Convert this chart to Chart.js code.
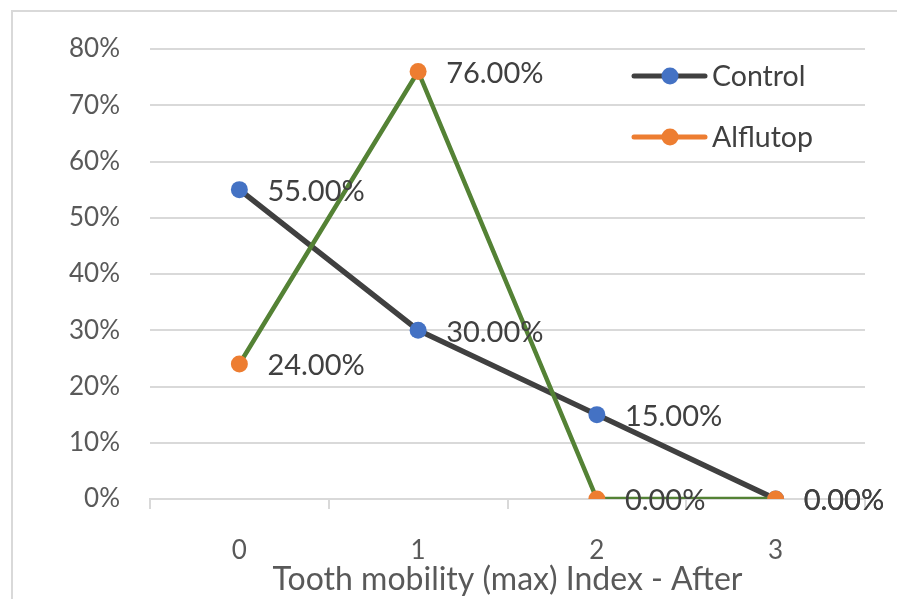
<!DOCTYPE html>
<html>
<head>
<meta charset="utf-8">
<script src="https://cdn.jsdelivr.net/npm/chart.js@4/dist/chart.umd.min.js"></script>
<style>
  html, body { margin: 0; padding: 0; background: #ffffff; }
  #wrap { width: 897px; height: 599px; position: relative; }
</style>
</head>
<body>
<div id="wrap"><canvas id="c" width="897" height="599"></canvas></div>
<script>
const categories = ['0', '1', '2', '3'];
const controlValues = [0.55, 0.30, 0.15, 0.00];
const alflutopValues = [0.24, 0.76, 0.00, 0.00];
const seriesNames = ['Control', 'Alflutop'];
const xAxisTitle = 'Tooth mobility (max) Index - After';
const yTickValues = [0, 0.1, 0.2, 0.3, 0.4, 0.5, 0.6, 0.7, 0.8];

const FONT = 'Lato, "Liberation Sans", sans-serif';
const legendItems = [
  { name: seriesNames[0], line: '#404040', marker: '#4472C4' },
  { name: seriesNames[1], line: '#ED7D31', marker: '#ED7D31' }
];

const framePlugin = {
  id: 'frame',
  beforeDraw(chart) {
    const ctx = chart.ctx;
    ctx.save();
    ctx.fillStyle = '#ffffff';
    ctx.fillRect(0, 0, chart.width, chart.height);
    ctx.strokeStyle = '#D9D9D9';
    ctx.lineWidth = 2;
    ctx.beginPath();
    ctx.moveTo(12, chart.height);
    ctx.lineTo(12, 11);
    ctx.lineTo(chart.width, 11);
    ctx.stroke();
    ctx.restore();
  }
};

const labelPlugin = {
  id: 'pointLabels',
  afterDatasetsDraw(chart) {
    const ctx = chart.ctx;
    ctx.save();
    ctx.font = '29px ' + FONT;
    ctx.fillStyle = '#404040';
    ctx.textAlign = 'left';
    ctx.textBaseline = 'middle';
    chart.data.datasets.forEach((ds, i) => {
      const meta = chart.getDatasetMeta(i);
      meta.data.forEach((pt, j) => {
        const v = ds.data[j];
        ctx.fillText((v * 100).toFixed(2) + '%', pt.x + 28, pt.y + 2);
      });
    });
    ctx.restore();
  }
};

const legendPlugin = {
  id: 'customLegend',
  afterDraw(chart) {
    const ctx = chart.ctx;
    const area = chart.chartArea;
    ctx.save();
    ctx.font = '28.5px ' + FONT;
    ctx.textBaseline = 'middle';
    ctx.textAlign = 'left';
    legendItems.forEach((it, i) => {
      const y = area.top + 27 + i * 61;
      const x0 = area.right - 231;
      ctx.strokeStyle = it.line;
      ctx.lineWidth = 5;
      ctx.lineCap = 'round';
      ctx.beginPath();
      ctx.moveTo(x0, y);
      ctx.lineTo(x0 + 71, y);
      ctx.stroke();
      ctx.fillStyle = it.marker;
      ctx.beginPath();
      ctx.arc(x0 + 36, y, 8.5, 0, Math.PI * 2);
      ctx.fill();
      ctx.fillStyle = '#404040';
      ctx.fillText(it.name, x0 + 78, y + 1);
    });
    ctx.restore();
  }
};

new Chart(document.getElementById('c'), {
  type: 'line',
  data: {
    labels: categories,
    datasets: [
      {
        label: seriesNames[0],
        data: controlValues,
        borderColor: '#404040',
        borderWidth: 5.5,
        pointRadius: 8.5,
        pointBackgroundColor: '#4472C4',
        pointBorderWidth: 0,
        pointBorderColor: '#4472C4',
        tension: 0,
        order: 2
      },
      {
        label: seriesNames[1],
        data: alflutopValues,
        borderColor: '#548235',
        borderWidth: 4.5,
        pointRadius: 8.5,
        pointBackgroundColor: '#ED7D31',
        pointBorderWidth: 0,
        pointBorderColor: '#ED7D31',
        tension: 0,
        order: 1
      }
    ]
  },
  options: {
    responsive: false,
    animation: false,
    devicePixelRatio: 1,
    layout: { padding: { left: 0, right: 32, top: 49, bottom: 0 } },
    plugins: {
      legend: { display: false },
      tooltip: { enabled: false },
      title: { display: false }
    },
    scales: {
      x: {
        type: 'category',
        offset: true,
        grid: {
          offset: true,
          drawOnChartArea: false,
          drawTicks: true,
          tickLength: 10,
          color: '#D9D9D9',
          lineWidth: 2
        },
        border: { display: true, color: '#D9D9D9', width: 2 },
        ticks: {
          color: '#595959',
          font: { family: FONT, size: 26 },
          padding: 26,
          maxRotation: 0
        },
        title: {
          display: true,
          text: xAxisTitle,
          color: '#595959',
          font: { family: FONT, size: 32 },
          padding: { top: 0, bottom: 0 }
        },
        afterFit(scale) { scale.height = 100; }
      },
      y: {
        min: 0,
        max: 0.8,
        afterBuildTicks(scale) { scale.ticks = yTickValues.map(v => ({ value: v })); },
        grid: { color: '#D9D9D9', lineWidth: 2, drawTicks: false },
        border: { display: false },
        ticks: {
          color: '#595959',
          font: { family: FONT, size: 26 },
          padding: 30,
          callback: (v) => Math.round(v * 100) + '%'
        },
        afterFit(scale) { scale.width = 150; }
      }
    }
  },
  plugins: [framePlugin, labelPlugin, legendPlugin]
});
</script>
</body>
</html>
